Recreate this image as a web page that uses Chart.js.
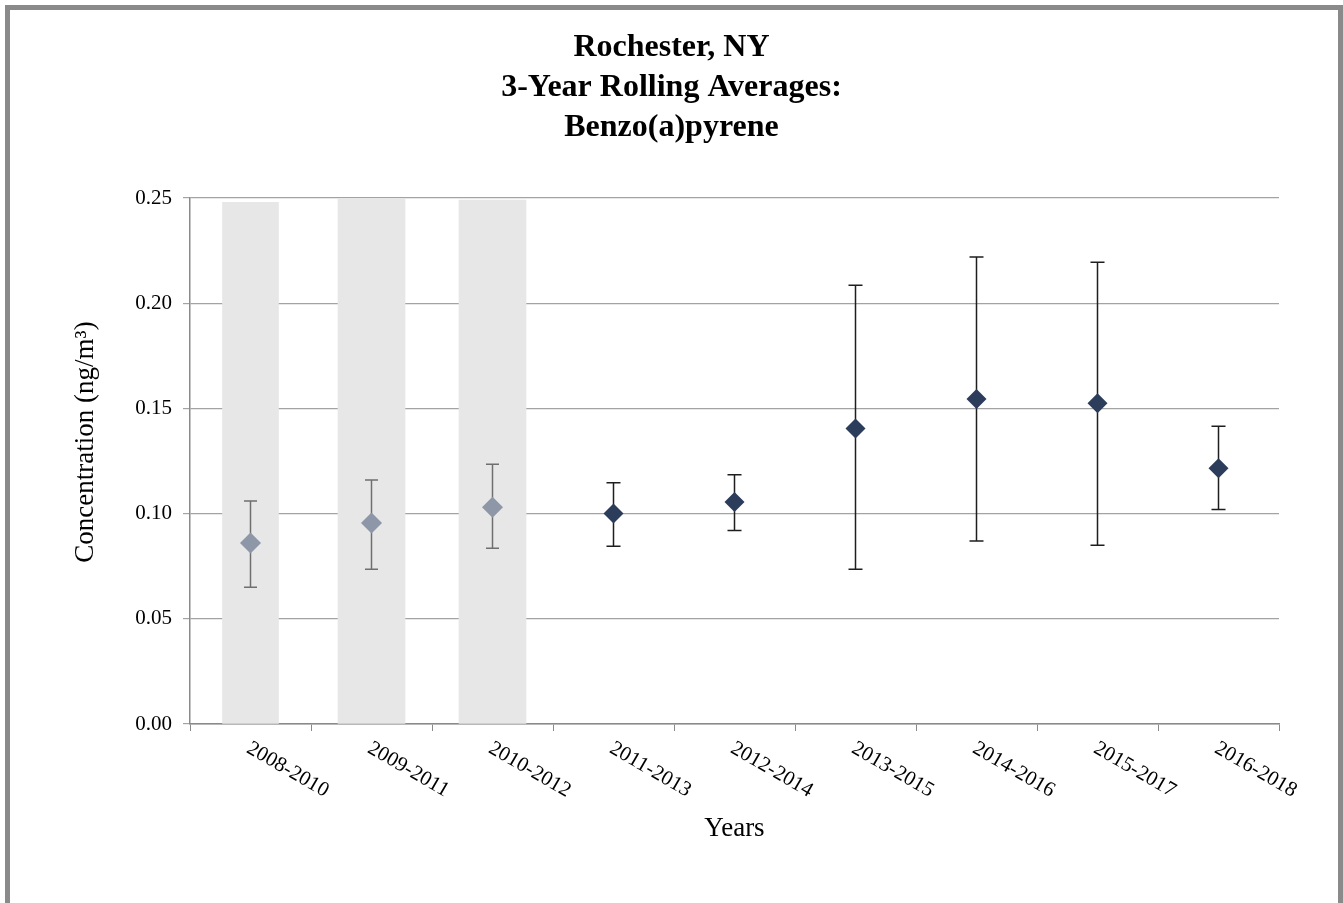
<!DOCTYPE html>
<html>
<head>
<meta charset="utf-8">
<script src="https://cdn.jsdelivr.net/npm/chart.js@4/dist/chart.umd.min.js"></script>
<style>
  html, body { margin: 0; padding: 0; background: #fff; overflow: hidden; }
  #frame { position: absolute; left: 5px; top: 5px; width: 1328px; height: 940px;
           border: 5px solid #8a8a8a; border-bottom: none; background: #fff; }
  #c { position: absolute; left: 0; top: 0; }
</style>
</head>
<body>
<div id="frame"></div>
<canvas id="c" width="1343" height="903"></canvas>
<script>
// ---- data ----
const categories = ['2008-2010','2009-2011','2010-2012','2011-2013','2012-2014','2013-2015','2014-2016','2015-2017','2016-2018'];
const historicMeans = [0.086, 0.0955, 0.103, null, null, null, null, null, null];
const currentMeans  = [null, null, null, 0.100, 0.1055, 0.1405, 0.1545, 0.1525, 0.1215];
const lowerBounds   = [0.065, 0.0735, 0.0835, 0.0845, 0.092, 0.0735, 0.087, 0.085, 0.102];
const upperBounds   = [0.106, 0.116, 0.1235, 0.1147, 0.1185, 0.2085, 0.222, 0.2195, 0.1415];
const shadedBarA    = [0.248, null, null, null, null, null, null, null, null];
const shadedBarB    = [null, 0.25, 0.249, null, null, null, null, null, null];
const yTicks = [0, 0.05, 0.10, 0.15, 0.20, 0.25];
const titleLines = ['Rochester, NY', '3-Year Rolling Averages:', 'Benzo(a)pyrene'];
const yTitle = 'Concentration (ng/m\u00B3)';
const xTitle = 'Years';

const SERIF = "'Liberation Serif', 'Times New Roman', serif";

const errorBarPlugin = {
  id: 'errorBars',
  beforeDatasetDraw(chart, args) {
    const ds = chart.data.datasets[args.index];
    if (!ds.errColor) return;
    const xs = chart.scales.x, ys = chart.scales.y, ctx = chart.ctx;
    ctx.save();
    ctx.strokeStyle = ds.errColor;
    ctx.lineWidth = 1.5;
    ds.data.forEach((v, i) => {
      if (v === null) return;
      const x = xs.getPixelForValue(i);
      const yl = ys.getPixelForValue(lowerBounds[i]);
      const yh = ys.getPixelForValue(upperBounds[i]);
      const cw = ds.capHalf;
      ctx.beginPath();
      ctx.moveTo(x, yl); ctx.lineTo(x, yh);
      ctx.moveTo(x - cw, yl); ctx.lineTo(x + cw, yl);
      ctx.moveTo(x - cw, yh); ctx.lineTo(x + cw, yh);
      ctx.stroke();
    });
    ctx.restore();
  },
  afterDraw(chart) {
    const ctx = chart.ctx, xs = chart.scales.x, area = chart.chartArea;
    ctx.save();
    ctx.fillStyle = '#000';
    ctx.font = '21px ' + SERIF;
    ctx.textAlign = 'left';
    ctx.textBaseline = 'top';
    categories.forEach((c, i) => {
      const x = xs.getPixelForValue(i);
      ctx.save();
      ctx.translate(x + 3, xs.top + 14);
      ctx.rotate(30 * Math.PI / 180);
      ctx.fillText(c, 0, 0);
      ctx.restore();
    });
    // y axis title
    ctx.save();
    ctx.font = '27px ' + SERIF;
    ctx.textAlign = 'center';
    ctx.textBaseline = 'middle';
    ctx.translate(86, (area.top + area.bottom) / 2 - 19);
    ctx.rotate(-Math.PI / 2);
    ctx.fillText(yTitle, 0, 0);
    ctx.restore();
    ctx.restore();
  }
};

new Chart(document.getElementById('c'), {
  type: 'bar',
  data: {
    labels: categories,
    datasets: [
      {
        type: 'line', label: 'historic', data: historicMeans, showLine: false,
        pointStyle: 'rectRot', pointRadius: 10.5, pointHoverRadius: 10.5,
        backgroundColor: '#8e97a7', borderColor: '#8e97a7', borderWidth: 0,
        errColor: '#6f6f6f', capHalf: 6.5, order: 1
      },
      {
        type: 'line', label: 'current', data: currentMeans, showLine: false,
        pointStyle: 'rectRot', pointRadius: 10, pointHoverRadius: 10,
        backgroundColor: '#2c3d5b', borderColor: '#2c3d5b', borderWidth: 0,
        errColor: '#1e1e1e', capHalf: 7, order: 1
      },
      {
        type: 'bar', label: 'shadeA', data: shadedBarA, grouped: false,
        backgroundColor: '#e7e7e7', barThickness: 56, order: 3
      },
      {
        type: 'bar', label: 'shadeB', data: shadedBarB, grouped: false,
        backgroundColor: '#e7e7e7', barThickness: 67, order: 3
      }
    ]
  },
  options: {
    responsive: false,
    animation: false,
    layout: { padding: 0 },
    plugins: {
      legend: { display: false },
      tooltip: { enabled: false },
      title: {
        display: true,
        text: titleLines,
        color: '#000',
        font: { family: SERIF, size: 32, weight: 'bold', lineHeight: 1.25 },
        padding: { top: 28, bottom: 50 }
      }
    },
    scales: {
      x: {
        offset: true,
        grid: { display: true, drawOnChartArea: false, drawTicks: true, tickLength: 7, color: '#8a8a8a', offset: true },
        border: { display: true, color: '#8a8a8a', width: 1.5 },
        ticks: { display: false },
        title: { display: true, text: xTitle, color: '#000',
                 font: { family: SERIF, size: 27, lineHeight: 1.2 }, padding: { top: 0, bottom: 58 } },
        afterFit(scale) { scale.height = 179; }
      },
      y: {
        min: 0, max: 0.25,
        afterBuildTicks(scale) { scale.ticks = yTicks.map(v => ({ value: v })); },
        grid: { color: '#a3a3a3', lineWidth: 1.2, drawTicks: true, tickLength: 7 },
        border: { display: true, color: '#8a8a8a', width: 1.5 },
        ticks: { color: '#000', padding: 11, font: { family: SERIF, size: 21 },
                 callback: v => Number(v).toFixed(2) },
        afterFit(scale) { scale.width = 190; }
      },
      yPad: {
        position: 'right', display: true,
        grid: { display: false, drawTicks: false },
        border: { display: false },
        ticks: { display: false },
        afterFit(scale) { scale.width = 64; }
      }
    }
  },
  plugins: [errorBarPlugin]
});
</script>
</body>
</html>
